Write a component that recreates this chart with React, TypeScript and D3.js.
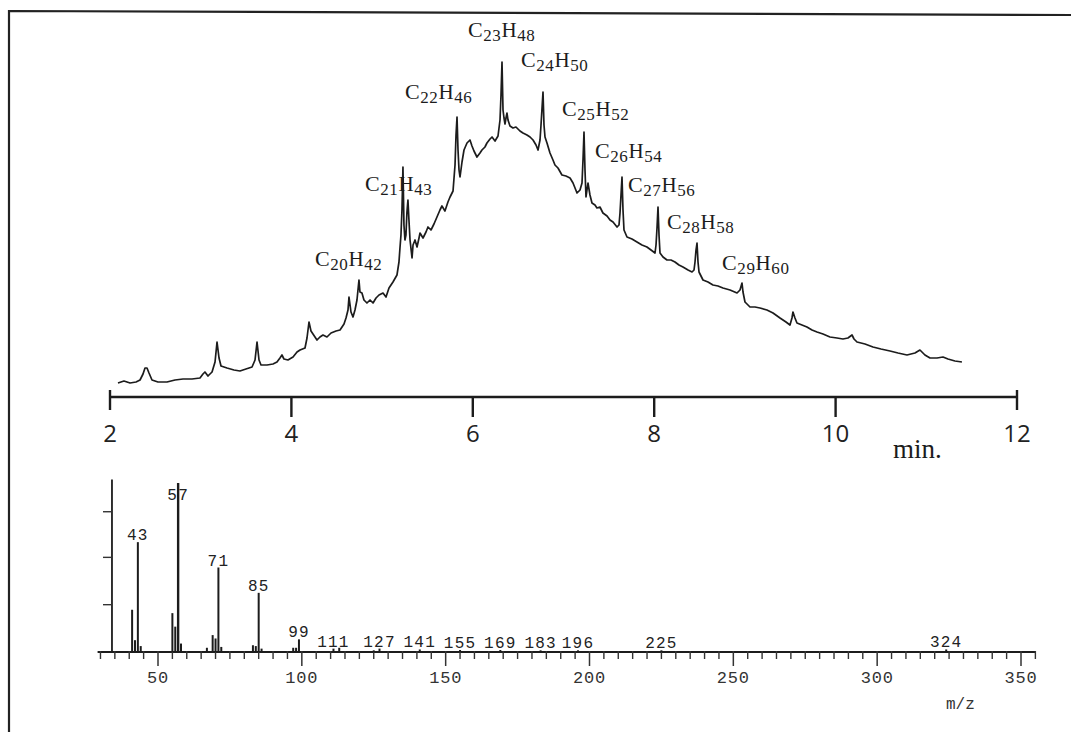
import React from "react";
import * as d3 from "d3";

// ---------- Chromatogram (TIC) : [retention time (min), detector signal (a.u.)]
const chromatogram: [number, number][] = [
  [2.088, 7], [2.154, 9], [2.221, 7], [2.287, 8], [2.331, 10], [2.364, 16], [2.386, 22], [2.408, 22],
  [2.43, 17], [2.463, 10], [2.529, 8], [2.628, 8], [2.717, 10], [2.805, 11], [2.904, 11], [2.992, 12],
  [3.025, 16], [3.047, 18], [3.08, 14], [3.125, 18], [3.158, 28], [3.18, 48], [3.202, 32], [3.224, 24],
  [3.29, 22], [3.367, 20], [3.433, 19], [3.499, 21], [3.566, 23], [3.599, 30], [3.621, 48], [3.643, 30],
  [3.665, 25], [3.731, 25], [3.797, 26], [3.841, 28], [3.874, 32], [3.896, 35], [3.918, 31], [3.962, 30],
  [4.018, 33], [4.062, 38], [4.095, 40], [4.15, 42], [4.172, 52], [4.194, 68], [4.216, 59], [4.238, 56],
  [4.282, 50], [4.315, 53], [4.348, 55], [4.392, 53], [4.437, 57], [4.492, 59], [4.536, 60], [4.58, 66],
  [4.602, 72], [4.624, 80], [4.635, 93], [4.657, 78], [4.679, 73], [4.701, 80], [4.723, 90], [4.745, 110],
  [4.756, 98], [4.778, 97], [4.8, 90], [4.833, 87], [4.867, 90], [4.9, 87], [4.933, 92], [4.966, 95],
  [5.01, 97], [5.043, 93], [5.076, 102], [5.12, 108], [5.164, 115], [5.186, 128], [5.197, 142], [5.208, 155],
  [5.219, 180], [5.23, 223], [5.241, 165], [5.252, 150], [5.263, 155], [5.274, 178], [5.285, 190], [5.296, 170],
  [5.308, 150], [5.33, 132], [5.341, 145], [5.363, 150], [5.385, 143], [5.407, 152], [5.418, 157], [5.451, 152],
  [5.484, 158], [5.506, 163], [5.539, 160], [5.572, 166], [5.605, 173], [5.638, 180], [5.66, 184], [5.693, 179],
  [5.726, 188], [5.749, 193], [5.782, 199], [5.804, 225], [5.815, 255], [5.826, 273], [5.837, 240], [5.848, 220],
  [5.859, 213], [5.881, 228], [5.903, 240], [5.936, 247], [5.969, 250], [5.991, 244], [6.013, 239], [6.046, 233],
  [6.079, 237], [6.101, 240], [6.134, 243], [6.156, 247], [6.19, 251], [6.212, 253], [6.245, 249], [6.278, 254],
  [6.3, 270], [6.311, 295], [6.322, 328], [6.333, 280], [6.344, 272], [6.355, 266], [6.366, 272], [6.377, 277],
  [6.388, 270], [6.41, 264], [6.443, 262], [6.476, 263], [6.52, 259], [6.553, 257], [6.597, 255], [6.631, 253],
  [6.664, 250], [6.697, 245], [6.719, 240], [6.741, 250], [6.752, 265], [6.774, 298], [6.785, 265], [6.796, 253],
  [6.818, 247], [6.851, 237], [6.884, 230], [6.906, 225], [6.939, 222], [6.983, 215], [7.027, 214], [7.072, 212],
  [7.105, 207], [7.149, 197], [7.182, 200], [7.204, 207], [7.215, 230], [7.226, 258], [7.237, 220], [7.248, 193],
  [7.259, 200], [7.27, 207], [7.292, 195], [7.314, 187], [7.347, 185], [7.369, 182], [7.402, 183], [7.435, 177],
  [7.48, 174], [7.513, 170], [7.546, 168], [7.59, 163], [7.612, 165], [7.623, 177], [7.634, 195], [7.645, 213],
  [7.656, 180], [7.667, 160], [7.7, 153], [7.755, 151], [7.81, 148], [7.865, 145], [7.92, 143], [7.965, 140],
  [8.009, 137], [8.02, 145], [8.031, 162], [8.042, 183], [8.053, 155], [8.064, 137], [8.097, 133], [8.141, 130],
  [8.185, 130], [8.229, 128], [8.273, 125], [8.317, 123], [8.373, 120], [8.417, 118], [8.439, 120], [8.45, 128],
  [8.461, 140], [8.472, 147], [8.483, 128], [8.494, 118], [8.538, 110], [8.593, 108], [8.648, 105], [8.703, 104],
  [8.758, 102], [8.836, 100], [8.913, 97], [8.946, 100], [8.968, 107], [8.979, 98], [9.001, 88], [9.056, 83],
  [9.111, 83], [9.166, 82], [9.243, 80], [9.31, 77], [9.387, 72], [9.453, 68], [9.497, 65], [9.519, 72],
  [9.53, 78], [9.552, 72], [9.574, 67], [9.629, 65], [9.684, 63], [9.74, 60], [9.795, 58], [9.861, 56],
  [9.938, 53], [10.015, 52], [10.081, 51], [10.136, 52], [10.181, 55], [10.203, 51], [10.236, 48], [10.324, 46],
  [10.412, 43], [10.5, 41], [10.6, 39], [10.688, 37], [10.787, 35], [10.875, 37], [10.93, 40], [10.985, 35],
  [11.041, 32], [11.118, 32], [11.184, 33], [11.239, 31], [11.316, 29], [11.393, 28],
];

// n-alkane annotations: carbon / hydrogen counts and label anchor in data units (time, signal)
const alkaneCarbon = [20, 21, 22, 23, 24, 25, 26, 27, 28, 29];
const alkaneHydrogen = [42, 43, 46, 48, 50, 52, 54, 56, 58, 60];
const labelTime = [4.26, 4.811, 5.252, 5.947, 6.531, 6.983, 7.347, 7.711, 8.141, 8.748];
const labelSignal = [124, 199, 291, 353, 323, 274, 232, 198, 161, 120];

const timeTicks = [2, 4, 6, 8, 10, 12];

// ---------- Mass spectrum
const massCharge = [41, 42, 43, 44, 55, 56, 57, 58, 67, 69, 70, 71, 72, 83, 84, 85, 86, 97, 98, 99, 111, 113, 125, 127, 141, 155, 169, 183, 196, 225, 324];
const abundance = [25, 7, 65, 3.5, 23, 15, 100, 5, 2.5, 10, 8, 50, 3, 4, 3.5, 35, 2, 2.5, 2.5, 7.5, 2, 2.5, 1, 2, 1.5, 1.2, 1.2, 1, 1, 1, 1.5];
const labeledIons = [43, 57, 71, 85, 99, 111, 127, 141, 155, 169, 183, 196, 225, 324];
const mzTicks = [50, 100, 150, 200, 250, 300, 350];
const abundanceTicks = [28, 56, 83];

export default function App() {
  const W = 1071;
  const H = 732;

  const xT = d3.scaleLinear().domain([2, 12]).range([110, 1017]);
  const yT = d3.scaleLinear().domain([0, 330]).range([390, 60]);
  const axisY = 397;

  const line = d3
    .line<[number, number]>()
    .x((d) => xT(d[0]))
    .y((d) => yT(d[1]))
    .curve(d3.curveLinear);

  const xM = d3.scaleLinear().domain([50, 350]).range([158, 1021]);
  const yM = d3.scaleLinear().domain([0, 100]).range([652, 483]);
  const base = yM(0);
  const minorTicks = d3.range(30, 356, 5).filter((v) => v % 50 !== 0);

  const ink = "#1c1c1c";

  return (
    <svg
      width={W}
      height={H}
      viewBox={`0 0 ${W} ${H}`}
      style={{ position: "absolute", left: 0, top: 0, display: "block", background: "#fff" }}
    >
      {/* frame */}
      <path d={`M9,${H} L9,11 L${W},15`} fill="none" stroke="#222" strokeWidth={2.2} />

      {/* chromatogram trace */}
      <path d={line(chromatogram) || ""} fill="none" stroke={ink} strokeWidth={1.7} strokeLinejoin="round" />

      {/* alkane labels */}
      {alkaneCarbon.map((c, i) => (
        <text
          key={c}
          x={xT(labelTime[i])}
          y={yT(labelSignal[i])}
          fontFamily="'Liberation Serif', serif"
          fontSize={22}
          fill={ink}
          letterSpacing={0.6}
        >
          <tspan>C</tspan>
          <tspan fontSize={17} dy={4}>{c}</tspan>
          <tspan fontSize={21} dy={-4}>H</tspan>
          <tspan fontSize={17} dy={4}>{alkaneHydrogen[i]}</tspan>
        </text>
      ))}

      {/* time axis */}
      <line x1={xT(2)} x2={xT(12)} y1={axisY} y2={axisY} stroke={ink} strokeWidth={2.6} />
      {timeTicks.map((t, i) => {
        const end = i === 0 || i === timeTicks.length - 1;
        return (
          <g key={t}>
            <line
              x1={xT(t)}
              x2={xT(t)}
              y1={end ? axisY - 7 : axisY}
              y2={axisY + (end ? 13 : 20)}
              stroke={ink}
              strokeWidth={2.4}
            />
            <text
              x={xT(t)}
              y={442}
              textAnchor="middle"
              fontFamily="'Open Sans', sans-serif"
              fontSize={24}
              fill="#222"
            >
              {t}
            </text>
          </g>
        );
      })}
      <text x={893} y={458} fontFamily="'Liberation Serif', serif" fontSize={27} fill={ink}>
        min.
      </text>

      {/* mass spectrum axes */}
      <line x1={xM(29)} x2={xM(355)} y1={base} y2={base} stroke={ink} strokeWidth={1.8} />
      {minorTicks.map((v) => (
        <line key={v} x1={xM(v)} x2={xM(v)} y1={base - 1} y2={base + 7} stroke="#333" strokeWidth={1.4} />
      ))}
      {mzTicks.map((v) => (
        <g key={v}>
          <line x1={xM(v)} x2={xM(v)} y1={base - 1} y2={base + 14} stroke="#333" strokeWidth={1.5} />
          <text
            x={xM(v)}
            y={683}
            textAnchor="middle"
            fontFamily="'Liberation Mono', monospace"
            fontSize={17}
            letterSpacing={0.8}
            fill="#333"
          >
            {v}
          </text>
        </g>
      ))}
      <line x1={xM(34)} x2={xM(34)} y1={base} y2={yM(102)} stroke={ink} strokeWidth={1.8} />
      {abundanceTicks.map((v) => (
        <line key={v} x1={xM(34) - 9} x2={xM(34)} y1={yM(v)} y2={yM(v)} stroke="#333" strokeWidth={1.4} />
      ))}
      <text x={946} y={709} fontFamily="'Liberation Mono', monospace" fontSize={16} fill="#333">
        m/z
      </text>

      {/* mass peaks */}
      {massCharge.map((m, i) => (
        <line
          key={m}
          x1={xM(m)}
          x2={xM(m)}
          y1={base}
          y2={yM(abundance[i])}
          stroke={ink}
          strokeWidth={m === 57 ? 2.4 : 2}
        />
      ))}
      {labeledIons.map((m) => {
        const idx = massCharge.indexOf(m);
        const a = idx >= 0 ? abundance[idx] : 0;
        return (
          <text
            key={m}
            x={xM(m)}
            y={Math.max(yM(a) - 2, 500)}
            textAnchor="middle"
            fontFamily="'Liberation Mono', monospace"
            fontSize={16}
            letterSpacing={1.2}
            fill="#222"
          >
            {m}
          </text>
        );
      })}
    </svg>
  );
}
